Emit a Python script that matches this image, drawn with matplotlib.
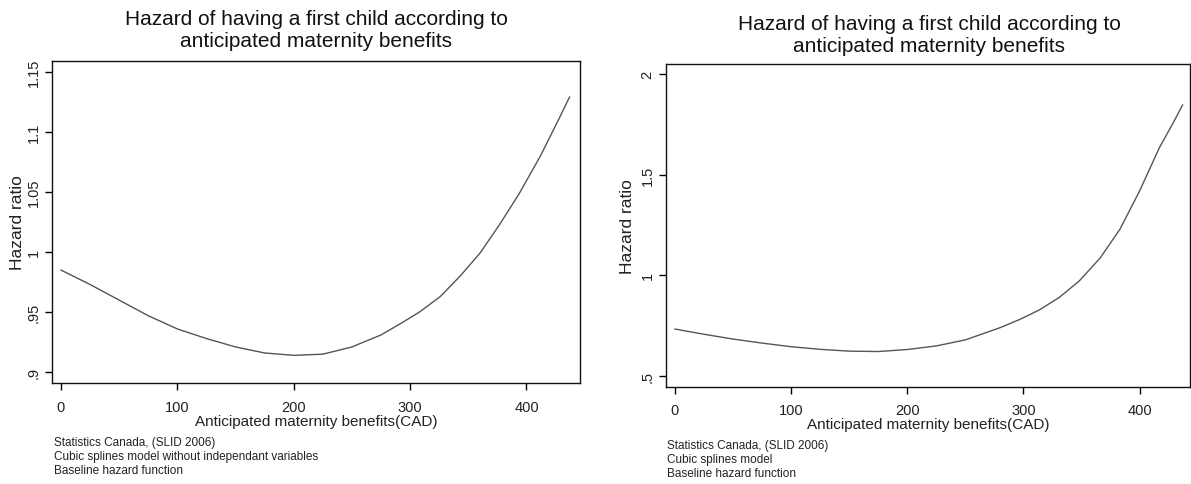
import matplotlib
matplotlib.use('Agg')
from matplotlib import pyplot as plt

plt.rcParams['font.family'] = ['Liberation Sans', 'DejaVu Sans']

# 左图：不含自变量的三次样条模型
x_left = [0, 25, 50, 75, 100, 125, 150, 175, 200, 225, 250, 275, 291, 308,
          326, 343, 360, 377, 394, 412, 429, 437]
hr_left = [0.985, 0.973, 0.960, 0.947, 0.936, 0.928, 0.921, 0.916, 0.914, 0.915,
           0.921, 0.931, 0.940, 0.950, 0.963, 0.980, 0.999, 1.023, 1.049, 1.080,
           1.113, 1.129]
yticks_left = [0.9, 0.95, 1.0, 1.05, 1.1, 1.15]
ylabels_left = ['.9', '.95', '1', '1.05', '1.1', '1.15']

# 右图：三次样条模型
x_right = [0, 25, 50, 75, 100, 125, 150, 175, 200, 225, 250, 280, 297, 314,
           331, 348, 366, 383, 400, 417, 429, 437]
hr_right = [0.732, 0.706, 0.682, 0.662, 0.644, 0.631, 0.622, 0.620, 0.630, 0.648,
            0.678, 0.739, 0.780, 0.828, 0.890, 0.971, 1.085, 1.228, 1.419, 1.634,
            1.759, 1.847]
yticks_right = [0.5, 1.0, 1.5, 2.0]
ylabels_right = ['.5', '1', '1.5', '2']

xticks = [0, 100, 200, 300, 400]

title = 'Hazard of having a first child according to\nanticipated maternity benefits'
xlab = 'Anticipated maternity benefits(CAD)'
ylab = 'Hazard ratio'
note_left = ('Statistics Canada, (SLID 2006)\n'
             'Cubic splines model without independant variables\n'
             'Baseline hazard function')
note_right = ('Statistics Canada, (SLID 2006)\n'
              'Cubic splines model\n'
              'Baseline hazard function')

txt = '#222222'
W, H = 1191, 485
fig = plt.figure(figsize=(W / 100, H / 100), dpi=100)


def panel(rect, xs, ys, yt, yl, ylim, xlim, title_xy, note_xy, note, xlab_y, ylab_x):
    ax = fig.add_axes(rect)
    ax.plot(xs, ys, color='#555555', lw=1.0)
    ax.set_xlim(*xlim)
    ax.set_ylim(*ylim)
    ax.set_xticks(xticks)
    ax.set_xticklabels([str(t) for t in xticks])
    ax.set_yticks(yt)
    ax.set_yticklabels(yl, rotation=90, va='center')
    for s in ax.spines.values():
        s.set_linewidth(1.0)
        s.set_color('#111111')
    ax.tick_params(axis='x', length=5, width=1.0, pad=7, labelsize=10.5, labelcolor=txt)
    ax.tick_params(axis='y', length=5, width=1.0, pad=3, labelsize=10.5, labelcolor=txt)
    ax.set_xlabel(xlab, fontsize=11, color=txt, va='center')
    ax.xaxis.set_label_coords(0.5, xlab_y)
    ax.set_ylabel(ylab, fontsize=12.5, color=txt, va='center')
    ax.yaxis.set_label_coords(ylab_x, 0.5)
    fig.text(title_xy[0], title_xy[1], title, ha='center', va='center',
             fontsize=15, color='#111111', linespacing=1.2)
    fig.text(note_xy[0], note_xy[1], note, ha='left', va='top',
             fontsize=8.5, color=txt, linespacing=1.25)
    return ax


# 左图
panel([52 / W, 1 - 384 / H, (580 - 52) / W, (384 - 62) / H],
      x_left, hr_left, yticks_left, ylabels_left, (0.891, 1.159), (-7.7, 446),
      (316 / W, 1 - 30.5 / H), (54 / W, 1 - 437 / H), note_left, -0.118, -0.066)

# 右图
panel([665.7 / W, 1 - 387.7 / H, (1190 - 665.7) / W, (387.7 - 65) / H],
      x_right, hr_right, yticks_right, ylabels_right, (0.445, 2.051), (-8, 443.4),
      (929 / W, 1 - 35 / H), (667 / W, 1 - 440 / H), note_right, -0.1156, -0.072)

plt.savefig('out.png', dpi=100)
